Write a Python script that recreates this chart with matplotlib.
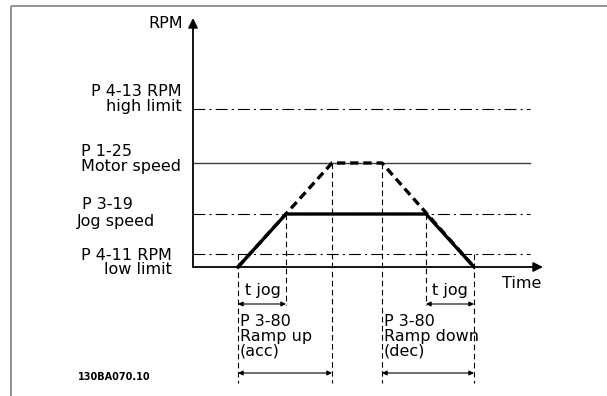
import matplotlib.pyplot as plt

plt.rcParams['lines.scale_dashes'] = False

# Zeitpunkte (willkuerliche Einheiten, Ursprung = RPM-Achse)
t_start = 45        # Start Rampe
t_jog_up = 93       # Jog-Drehzahl erreicht
t_motor_up = 139    # Motordrehzahl erreicht (gestrichelt)
t_motor_down = 189  # Beginn Rampe ab (gestrichelt)
t_jog_down = 233    # Beginn Rampe ab bei Jog
t_end = 281         # Ende
t_axis = 350        # Ende Zeitachse
t_lines = 337       # Ende der Grenzlinien

# Drehzahlniveaus
rpm_low = 13
rpm_jog = 53
rpm_motor = 104
rpm_high = 158
rpm_axis = 249

# Profile
jog_t = [t_start, t_jog_up, t_jog_down, t_end]
jog_rpm = [0, rpm_jog, rpm_jog, 0]
motor_t = [t_start, t_motor_up, t_motor_down, t_end]
motor_rpm = [0, rpm_motor, rpm_motor, 0]

fig = plt.figure(figsize=(6.07, 3.96), dpi=100)
ax = fig.add_axes([0, 0, 1, 1])
ax.set_xlim(-193, 414)
ax.set_ylim(-129, 267)
ax.axis('off')

# Rahmen (grau, oben und links)
ax.plot([-182, 414], [261, 261], color='#808080', lw=1.2, solid_capstyle='butt')
ax.plot([-182, -182], [261, -129], color='#808080', lw=1.2, solid_capstyle='butt')

dashdot = (0, (8.5, 3, 1.5, 3))
ax.plot([0, t_lines], [rpm_high, rpm_high], color='black', lw=0.8, linestyle=dashdot)
ax.plot([0, t_lines], [rpm_jog, rpm_jog], color='black', lw=0.8, linestyle=dashdot)
ax.plot([0, t_lines], [rpm_low, rpm_low], color='black', lw=0.8, linestyle=dashdot)
ax.plot([0, t_lines], [rpm_motor, rpm_motor], color='#404040', lw=1.0)

# Achsen
ax.annotate('', xy=(0, rpm_axis), xytext=(0, 0),
            arrowprops=dict(arrowstyle='-|>', color='black', lw=1.3,
                            mutation_scale=14, shrinkA=0, shrinkB=0))
ax.annotate('', xy=(t_axis, 0), xytext=(0, 0),
            arrowprops=dict(arrowstyle='-|>', color='black', lw=1.3,
                            mutation_scale=14, shrinkA=0, shrinkB=0))

# Hilfslinien senkrecht
vdash = (0, (4, 2.5))
for t, top, bottom in [(t_start, rpm_low, -116), (t_jog_up, rpm_jog, -38),
                       (t_motor_up, rpm_motor, -116), (t_motor_down, rpm_motor, -116),
                       (t_jog_down, rpm_jog, -38), (t_end, rpm_low, -116)]:
    ax.plot([t, t], [top, bottom], color='black', lw=0.8, linestyle=vdash)

# Drehzahlprofile
ax.plot(motor_t, motor_rpm, color='black', lw=2.4, linestyle=(0, (6, 3.5)))
ax.plot(jog_t, jog_rpm, color='black', lw=2.4, solid_joinstyle='miter')

# Masspfeile
arrow_kw = dict(arrowstyle='<|-|>', color='black', lw=0.8, mutation_scale=7,
                shrinkA=0, shrinkB=0)
for a, b, y in [(t_start, t_jog_up, -37), (t_jog_down, t_end, -37),
                (t_start, t_motor_up, -106), (t_motor_down, t_end, -106)]:
    ax.annotate('', xy=(b, y), xytext=(a, y), arrowprops=arrow_kw)

fs = 11.5
ax.text(-10, 243, 'RPM', fontsize=fs, ha='right', va='center')
ax.text(t_axis - 2, -17, 'Time', fontsize=fs, ha='right', va='center')

ax.text(-11, 176, 'P 4-13 RPM', fontsize=fs, ha='right', va='center')
ax.text(-11, 161, 'high limit', fontsize=fs, ha='right', va='center')
ax.text(-112, 115, 'P 1-25', fontsize=fs, ha='left', va='center')
ax.text(-112, 100, 'Motor speed', fontsize=fs, ha='left', va='center')
ax.text(-111, 62, 'P 3-19', fontsize=fs, ha='left', va='center')
ax.text(-116, 45, 'Jog speed', fontsize=fs, ha='left', va='center')
ax.text(-112, 12, 'P 4-11 RPM', fontsize=fs, ha='left', va='center')
ax.text(-21, -2, 'low limit', fontsize=fs, ha='right', va='center')

ax.text(t_start + 7, -23, 't jog', fontsize=fs, ha='left', va='center')
ax.text(t_jog_down + 6, -23, 't jog', fontsize=fs, ha='left', va='center')
ax.text(t_start + 2, -69, 'P 3-80\nRamp up\n(acc)', fontsize=fs, ha='left',
        va='center', linespacing=0.97)
ax.text(t_motor_down + 2, -69, 'P 3-80\nRamp down\n(dec)', fontsize=fs, ha='left',
        va='center', linespacing=0.97)

ax.text(-115, -110, '130BA070.10', fontsize=7, fontweight='bold', ha='left',
        va='center')

fig.savefig('out.png', dpi=100)
